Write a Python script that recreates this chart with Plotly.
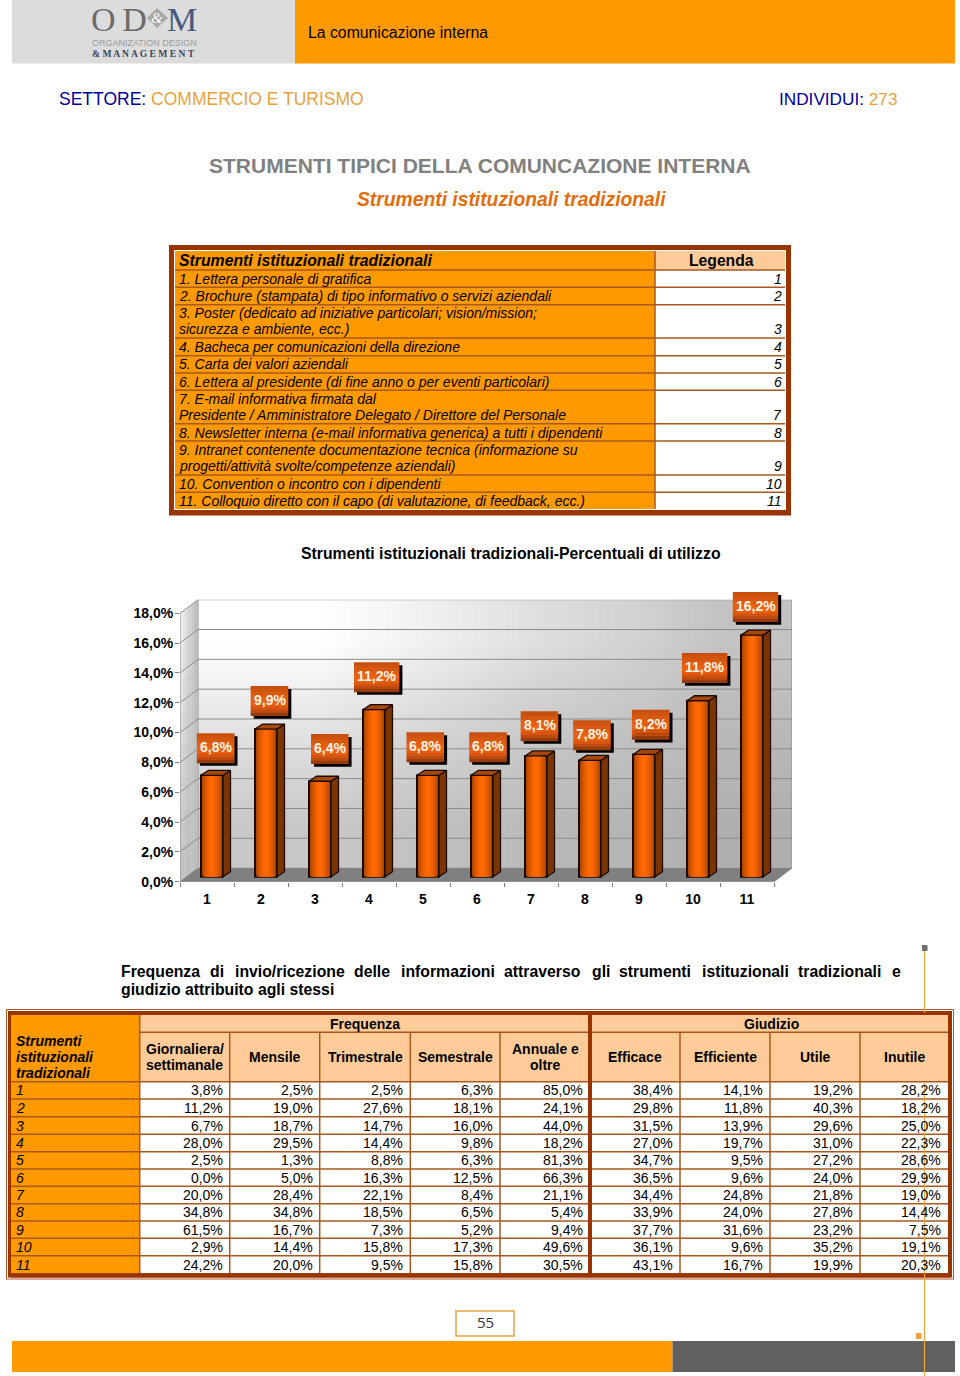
import plotly.graph_objects as go

W, H = 960, 1376
ARIAL = "Liberation Sans"
ORANGE = "#ff9900"
PEACH = "#ffcc99"
BROWN = "#993300"
RULE = "#a9581f"
GOLD = "#e8a33c"

# chart data
CATEGORIES = [1, 2, 3, 4, 5, 6, 7, 8, 9, 10, 11]
USAGE = [6.8, 9.9, 6.4, 11.2, 6.8, 6.8, 8.1, 7.8, 8.2, 11.8, 16.2]
Y_TICKS = [0, 2, 4, 6, 8, 10, 12, 14, 16, 18]
Y_TICK_LABELS = ["0,0%", "2,0%", "4,0%", "6,0%", "8,0%", "10,0%", "12,0%", "14,0%", "16,0%", "18,0%"]

# legend table
LEGEND_TITLE = "Strumenti istituzionali tradizionali"
LEGEND_ROWS = [
    ["1. Lettera personale di gratifica"],
    ["2. Brochure (stampata) di tipo informativo o servizi aziendali"],
    ["3. Poster (dedicato ad iniziative particolari; vision/mission;", "sicurezza e ambiente, ecc.)"],
    ["4. Bacheca per comunicazioni della direzione"],
    ["5. Carta dei valori aziendali"],
    ["6. Lettera al presidente (di fine anno o per eventi particolari)"],
    ["7. E-mail informativa firmata dal", "Presidente / Amministratore Delegato / Direttore del Personale"],
    ["8. Newsletter interna (e-mail informativa generica) a tutti i dipendenti"],
    ["9. Intranet contenente documentazione tecnica (informazione su", "progetti/attività svolte/competenze aziendali)"],
    ["10. Convention o incontro con i dipendenti"],
    ["11. Colloquio diretto con il capo (di valutazione, di feedback, ecc.)"],
]

# frequency / judgement table
FREQ_HEADERS = [["Giornaliera/", "settimanale"], ["Mensile"], ["Trimestrale"], ["Semestrale"], ["Annuale e", "oltre"]]
JUDGE_HEADERS = [["Efficace"], ["Efficiente"], ["Utile"], ["Inutile"]]
GIORNALIERA = [3.8, 11.2, 6.7, 28.0, 2.5, 0.0, 20.0, 34.8, 61.5, 2.9, 24.2]
MENSILE = [2.5, 19.0, 18.7, 29.5, 1.3, 5.0, 28.4, 34.8, 16.7, 14.4, 20.0]
TRIMESTRALE = [2.5, 27.6, 14.7, 14.4, 8.8, 16.3, 22.1, 18.5, 7.3, 15.8, 9.5]
SEMESTRALE = [6.3, 18.1, 16.0, 9.8, 6.3, 12.5, 8.4, 6.5, 5.2, 17.3, 15.8]
ANNUALE = [85.0, 24.1, 44.0, 18.2, 81.3, 66.3, 21.1, 5.4, 9.4, 49.6, 30.5]
EFFICACE = [38.4, 29.8, 31.5, 27.0, 34.7, 36.5, 34.4, 33.9, 37.7, 36.1, 43.1]
EFFICIENTE = [14.1, 11.8, 13.9, 19.7, 9.5, 9.6, 24.8, 24.0, 31.6, 9.6, 16.7]
UTILE = [19.2, 40.3, 29.6, 31.0, 27.2, 24.0, 21.8, 27.8, 23.2, 35.2, 19.9]
INUTILE = [28.2, 18.2, 25.0, 22.3, 28.6, 29.9, 19.0, 14.4, 7.5, 19.1, 20.3]
TABLE_COLUMNS = [GIORNALIERA, MENSILE, TRIMESTRALE, SEMESTRALE, ANNUALE, EFFICACE, EFFICIENTE, UTILE, INUTILE]

PARAGRAPH_LINE = ["Frequenza", "di", "invio/ricezione", "delle", "informazioni", "attraverso", "gli",
                  "strumenti", "istituzionali", "tradizionali", "e"]
PARAGRAPH_LEFTS = [121, 210, 235, 354.3, 400.7, 504.3, 591.7, 619.3, 701.7, 798.3, 892]

# label box nudges relative to the top of each bar, in pixels
LABEL_DX = [8.7, 8.5, 14.8, 7.7, 2.3, 11, 8.5, 7, 11.7, 11.7, 8.5]
LABEL_DY = [32.3, 33.3, 37.3, 37.7, 33.3, 33.3, 34.9, 30.4, 34.9, 37.8, 33.2]

shapes = []
annotations = []


def px(x):
    return x / W


def py(y):
    return 1 - y / H


def rect(x0, y0, x1, y1, fill, line=None, width=0, layer="below"):
    shapes.append(dict(type="rect", xref="paper", yref="paper", x0=px(x0), x1=px(x1), y0=py(y0), y1=py(y1),
                       fillcolor=fill, line=dict(color=line or "rgba(0,0,0,0)", width=width), layer=layer))


def hline(x0, x1, y, color, width=1.5, layer="below"):
    shapes.append(dict(type="line", xref="paper", yref="paper", x0=px(x0), x1=px(x1), y0=py(y), y1=py(y),
                       line=dict(color=color, width=width), layer=layer))


def vline(x, y0, y1, color, width=1.5, layer="below"):
    shapes.append(dict(type="line", xref="paper", yref="paper", x0=px(x), x1=px(x), y0=py(y0), y1=py(y1),
                       line=dict(color=color, width=width), layer=layer))


def poly(points, fill, line=None, width=0):
    path = "M" + " L".join(f"{px(a):.5f},{py(b):.5f}" for a, b in points) + " Z"
    shapes.append(dict(type="path", xref="paper", yref="paper", path=path, fillcolor=fill,
                       line=dict(color=line or "rgba(0,0,0,0)", width=width), layer="below"))


def text(x, y, s, size=14, color="black", anchor="left", family=ARIAL):
    annotations.append(dict(xref="paper", yref="paper", x=px(x), y=py(y), text=s, showarrow=False,
                            xanchor=anchor, yanchor="middle", borderpad=0, borderwidth=0,
                            font=dict(family=family, size=size, color=color)))


def pct(v):
    return f"{v:.1f}%".replace(".", ",")


# header and footer bands
rect(12, 0, 295, 63.5, "#dcdcdc")
rect(295, 0, 955, 63.5, ORANGE)
rect(12, 1341, 672.5, 1372, ORANGE)
rect(672.5, 1341, 955, 1372, "#606060")
text(308, 32, "La comunicazione interna", 15.8)

# logo
text(91, 19.6, "O\u2009D", 34, "#6b6b6b", family="Liberation Serif")
poly([(147, 18), (157, 8), (168, 18), (157, 28)], "#a8a8a8")
text(157, 18, "<i>&amp;</i>", 15, "white", "center", "Liberation Serif")
text(167, 19.6, "M", 34, "#47587f", family="Liberation Serif")
text(92, 43, "ORGANIZATION DESIGN", 9, "#9a9a9a")
text(92, 54, "<b>&amp; M A N A G E M E N T</b>", 9.6, "#3c4560", family="Liberation Serif")

# page headings
text(59, 98.5, '<span style="color:#000099">SETTORE:</span> COMMERCIO E TURISMO', 17.5, GOLD)
text(897, 98.5, '<span style="color:#000099">INDIVIDUI:</span> 273', 17.2, GOLD, "right")
text(480, 165, "<b>STRUMENTI TIPICI DELLA COMUNCAZIONE INTERNA</b>", 21, "#808080", "center")
text(511.5, 199.5, "<b><i>Strumenti istituzionali tradizionali</i></b>", 19.3, "#e46c0a", "center")

# legend table
rect(169, 245, 791, 515.5, BROWN)
rect(174, 250, 786, 510, "white")
legend_lines = [250.7, 270, 287.3, 304.7, 338, 355.7, 373, 390.3, 423.7, 441, 475, 492.3, 509.3]
rect(175, 251, 655, 509, ORANGE)
rect(655, 251, 785, 270, PEACH)
for y in legend_lines[1:-1]:
    hline(175, 785, y, RULE, 1.5)
vline(655, 251, 509, RULE, 1.5)
text(179, 260, f"<b><i>{LEGEND_TITLE}</i></b>", 15.8)
text(721, 260, "<b>Legenda</b>", 15.7, "black", "center")
for i, lines in enumerate(LEGEND_ROWS):
    bottom = legend_lines[i + 2]
    for j, line in enumerate(reversed(lines)):
        text(179, bottom - 8.5 - j * 16.5, f"<i>{line}</i>", 14)
    text(782, bottom - 8.5, f"<i>{i + 1}</i>", 14, "black", "right")

text(510.5, 553, "<b>Strumenti istituzionali tradizionali-Percentuali di utilizzo</b>", 15.8, "black", "center")

# justified paragraph, placed word by word
for word, left in zip(PARAGRAPH_LINE, PARAGRAPH_LEFTS):
    text(left, 971.5, f"<b>{word}</b>", 15.8)
text(121, 989.5, "<b>giudizio attribuito agli stessi</b>", 15.8)

# frequency table
rect(6, 1009, 954, 1279.5, "#b5552a")
rect(7, 1010, 953, 1278.5, "white")
rect(8, 1011, 952, 1277.5, BROWN)
col_edges = [11, 139.7, 229.7, 319.7, 410.3, 500, 590, 680, 770, 860, 948.3]
row_edges = [1015, 1032.3, 1081.7, 1099, 1116.7, 1134.3, 1151.7, 1169, 1186.3, 1203.7, 1221, 1238.3, 1255.7, 1273.3]
rect(11, 1015, 948.3, 1273.3, "white")
rect(11, 1015, 139.7, 1273.3, ORANGE)
rect(139.7, 1015, 948.3, 1081.7, PEACH)
for y in row_edges[1:-1]:
    hline(139.7 if y == row_edges[1] else 11, 948.3, y, RULE, 1.5)
for x in col_edges[1:-1]:
    vline(x, 1032.3 if x != 139.7 else 1015, 1273.3, RULE, 1.5)
vline(590, 1015, 1275, BROWN, 4)
vline(950, 1015, 1275, BROWN, 4)
rect(11, 1273.3, 950, 1277.5, BROWN)

text(365, 1023.5, "<b>Frequenza</b>", 14, "black", "center")
text(771, 1023.5, "<b>Giudizio</b>", 14, "black", "center")
for j, line in enumerate(["Strumenti", "istituzionali", "tradizionali"]):
    text(16, 1041 + j * 16, f"<b><i>{line}</i></b>", 14)
for k, lines in enumerate(FREQ_HEADERS + JUDGE_HEADERS):
    mid = (col_edges[k + 1] + col_edges[k + 2]) / 2
    top = 1057 - (len(lines) - 1) * 8
    for j, line in enumerate(lines):
        text(mid, top + j * 16, f"<b>{line}</b>", 14, "black", "center")
for r in range(11):
    mid_y = (row_edges[r + 2] + row_edges[r + 3]) / 2
    text(16, mid_y, f"<i>{r + 1}</i>", 14)
    for k, col in enumerate(TABLE_COLUMNS):
        text(col_edges[k + 2] - 7, mid_y, pct(col[r]), 14, "black", "right")

# page number and the stray vertical rule
rect(456, 1311, 514, 1336, "white", GOLD, 1.5)
text(485, 1322, "55", 15, "#333333", "center", "Open Sans")
vline(924.5, 948, 1013, GOLD, 1.2)
vline(924.5, 1083, 1376, GOLD, 1.2)
rect(922, 945, 927.5, 951, "#707070")
rect(916, 1333, 921.5, 1339, GOLD)

# chart geometry: front plane and back wall, in page pixels
FX0, FX1, FY0, FY1 = 180, 774, 881.7, 613.3
DX, DY = 18, 13.6
PX_X = (FX1 - FX0) / 11
PX_Y = (FY0 - FY1) / 18

# left wall and floor
N = 8
for a in range(N):
    for b in range(N):
        u0, u1 = a / N, (a + 1) / N
        v0, v1 = b / N, (b + 1) / N
        top_gray = 245 - 60 * (u0 + u1) / 2
        g = int(top_gray + (190 - top_gray) * (v0 + v1) / 2)
        yu0, yu1 = FY1 + (FY0 - FY1) * v0, FY1 + (FY0 - FY1) * v1
        poly([(FX0 + DX * u0, yu0 - DY * u0), (FX0 + DX * u1 + 0.3, yu0 - DY * u1),
              (FX0 + DX * u1 + 0.3, yu1 - DY * u1 + 0.3), (FX0 + DX * u0, yu1 - DY * u0 + 0.3)], f"rgb({g},{g},{g})")
poly([(FX0, FY0), (FX1, FY0), (FX1 + DX, FY0 - DY), (FX0 + DX, FY0 - DY)], "#808080")

fig = go.Figure()

# back wall, gradient and gridlines
fig.add_trace(go.Heatmap(x=[0, 0.4, 0.75, 1], y=[0, 6, 12, 18],
                         z=[[200, 185, 175], [225, 200, 185], [255, 222, 195]],
                         zmin=0, zmax=255, colorscale=[[0, "rgb(0,0,0)"], [1, "rgb(255,255,255)"]],
                         zsmooth="best", showscale=False, hoverinfo="skip", xaxis="x", yaxis="y"))
grid_x, grid_y = [], []
for v in Y_TICKS:
    grid_x += [0, 1, None]
    grid_y += [v, v, None]
grid_x += [0, 0, None, 1, 1]
grid_y += [0, 18, None, 0, 18]
fig.add_trace(go.Scatter(x=grid_x, y=grid_y, mode="lines", line=dict(color="#8c8c8c", width=1),
                         cliponaxis=False, hoverinfo="skip", showlegend=False, xaxis="x", yaxis="y"))

# wall edges and front axis line in the front plane's scale
dx_u = DX / PX_X
dy_u = DY / PX_Y
diag_x, diag_y = [], []
for v in Y_TICKS:
    diag_x += [0.5, 0.5 + dx_u, None]
    diag_y += [v, v + dy_u, None]
diag_x += [11.5, 11.5 + dx_u, None, 0.5, 0.5, None, 0.5, 11.5, None]
diag_y += [0, dy_u, None, 0, 18, None, 0, 0, None]
fig.add_trace(go.Scatter(x=diag_x, y=diag_y, mode="lines", line=dict(color="#8c8c8c", width=1),
                         cliponaxis=False, hoverinfo="skip", showlegend=False, xaxis="x2", yaxis="y2"))

# bars: nested narrower bars stand in for the cylinder-like shading
BAR_SHIFT = 5 / PX_X
BAR_BASE = 5 / PX_Y
BAR_W = 22 / PX_X
shades = ["#a84300", "#c24e00", "#d85700", "#ea5f00", "#f76400", "#ff6a05"]
bar_x = [c + BAR_SHIFT for c in CATEGORIES]
for i, shade in enumerate(shades):
    w = BAR_W * (1 - i / len(shades))
    fig.add_trace(go.Bar(x=bar_x, y=USAGE, base=[BAR_BASE] * len(USAGE), width=w,
                         marker=dict(color=shade, line=dict(color="#1c0a00", width=2 if i == 0 else 0)),
                         hoverinfo="skip", showlegend=False, xaxis="x2", yaxis="y2"))

# side and top faces of the bars
side_x, side_y, top_x, top_y = [], [], [], []
sx = 7.5 / PX_X
sy = 5 / PX_Y
for c, v in zip(bar_x, USAGE):
    l, r = c - BAR_W / 2, c + BAR_W / 2
    b, t = BAR_BASE, BAR_BASE + v
    side_x += [r, r + sx, r + sx, r, r, None]
    side_y += [b, b + sy, t + sy, t, b, None]
    top_x += [l, r, r + sx, l + sx, l, None]
    top_y += [t, t, t + sy, t + sy, t, None]
fig.add_trace(go.Scatter(x=side_x, y=side_y, mode="lines", fill="toself", fillcolor="#7a3406",
                         line=dict(color="#1c0a00", width=1.3), cliponaxis=False,
                         hoverinfo="skip", showlegend=False, xaxis="x2", yaxis="y2"))
fig.add_trace(go.Scatter(x=top_x, y=top_y, mode="lines", fill="toself", fillcolor="#a64808",
                         line=dict(color="#1c0a00", width=1.3), cliponaxis=False,
                         hoverinfo="skip", showlegend=False, xaxis="x2", yaxis="y2"))

# data labels, anchored on each bar's value
BOX_H = 29.7
bands = [(200, 80, 15), (208, 84, 15), (216, 88, 15), (224, 92, 15), (232, 95, 15),
         (236, 97, 15), (232, 94, 15), (214, 84, 15), (190, 74, 15), (150, 60, 15)]
for c, v, dx, dy in zip(CATEGORIES, USAGE, LABEL_DX, LABEL_DY):
    label = pct(v)
    half = 22.7 if len(label) > 4 else 18.8
    pixel_box = dict(type="rect", xref="x2", yref="y2", xsizemode="pixel", ysizemode="pixel",
                     xanchor=c, yanchor=v, layer="above", line=dict(width=0))
    shapes.append({**pixel_box, "x0": dx - half + 3, "x1": dx + half + 3,
                   "y0": dy - BOX_H / 2 - 3, "y1": dy + BOX_H / 2 - 3, "fillcolor": "black"})
    for k, band in enumerate(bands):
        y_top = dy + BOX_H / 2 - k * BOX_H / len(bands)
        shapes.append({**pixel_box, "x0": dx - half, "x1": dx + half,
                       "y0": y_top - BOX_H / len(bands) - 0.3, "y1": y_top, "fillcolor": f"rgb{band}"})
    annotations.append(dict(xref="x2", yref="y2", x=c, y=v, xshift=dx, yshift=dy + 1, text=f"<b>{label}</b>",
                            showarrow=False, xanchor="center", yanchor="middle",
                            font=dict(family=ARIAL, size=14, color="#fff4e6")))

axis_font = dict(family=ARIAL, size=14, color="black", weight="bold")
fig.update_layout(
    width=W, height=H, autosize=False, margin=dict(l=0, r=0, t=0, b=0),
    paper_bgcolor="white", plot_bgcolor="rgba(0,0,0,0)", showlegend=False, barmode="overlay",
    shapes=shapes, annotations=annotations,
    xaxis=dict(domain=[px(FX0 + DX), px(FX1 + DX)], range=[0, 1], visible=False, anchor="y",
               fixedrange=True, automargin=False),
    yaxis=dict(domain=[py(FY0 - DY), py(FY1 - DY)], range=[0, 18], visible=False, anchor="x",
               fixedrange=True, automargin=False),
    # the front plane runs a little past the last tick so label boxes near the edge are not clipped
    xaxis2=dict(domain=[px(FX0), px(FX1 + 0.5 * PX_X)], range=[0.5, 12], anchor="y2", tickmode="array",
                tickvals=CATEGORIES, ticktext=[str(c) for c in CATEGORIES], tickfont=axis_font, ticks="",
                ticklabelstandoff=7, showgrid=False, zeroline=False, showline=False,
                minor=dict(tickvals=[c - 0.5 for c in CATEGORIES] + [11.5], ticks="outside", ticklen=4,
                           tickcolor="#808080", tickwidth=1, showgrid=False),
                fixedrange=True, automargin=False),
    yaxis2=dict(domain=[py(FY0), py(FY1 - 1.5 * PX_Y)], range=[0, 19.5], anchor="x2", tickmode="array",
                tickvals=Y_TICKS, ticktext=Y_TICK_LABELS, tickfont=axis_font, ticks="outside", ticklen=4,
                ticklabelstandoff=-1, tickcolor="#808080", showgrid=False, zeroline=False, showline=False,
                fixedrange=True, automargin=False),
)

fig.write_html("out.html", config=dict(displayModeBar=False),
               post_script="document.body.style.margin='0';document.body.style.overflow='hidden';")
